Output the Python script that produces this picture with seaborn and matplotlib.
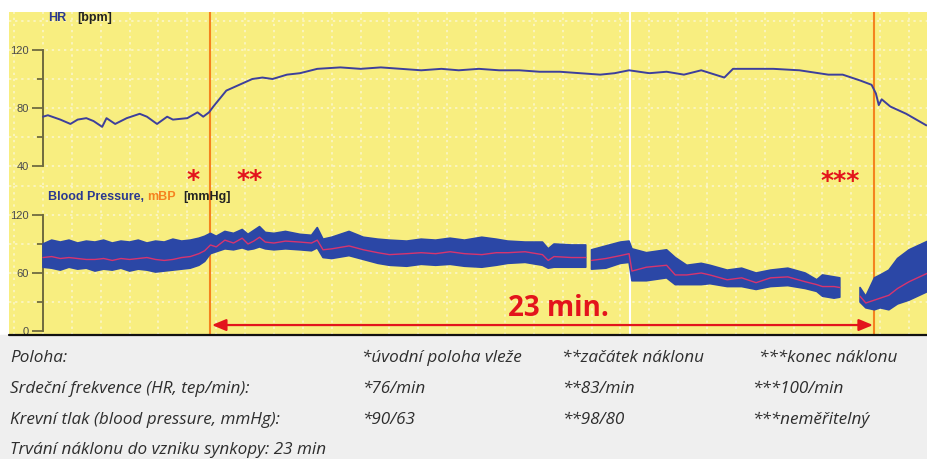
import numpy as np
import pandas as pd
import seaborn as sns
import matplotlib.pyplot as plt
from matplotlib import font_manager as fm
from matplotlib.patches import Rectangle

# === data (time in minutes from start of recording) ===
hr_t = [0, 0.17, 0.6, 0.95, 1.2, 1.5, 1.75, 2.05, 2.2, 2.5,
        2.9, 3.35, 3.6, 3.95, 4.3, 4.5, 5.0, 5.35, 5.55, 5.75,
        5.9, 6.35, 6.8, 7.25, 7.6, 7.95, 8.45, 8.9, 9.5, 10.3,
        11.0, 11.7, 12.4, 13.1, 13.8, 14.4, 15.1, 15.8, 16.5, 17.2,
        17.9, 18.6, 19.3, 19.8, 20.3, 21.0, 21.6, 22.2, 22.8, 23.6,
        23.9, 25.3, 26.2, 27.2, 27.7, 28.3, 28.7, 28.85, 28.95, 29.05,
        29.35, 29.9, 30.6]
hr = [74, 75, 72, 69, 72, 73, 71, 67, 73, 69,
      73, 76, 74, 69, 74, 72, 73, 77, 74, 77,
      81, 92, 96, 100, 101, 100, 103, 104, 107, 108,
      107, 108, 107, 106, 107, 106, 107, 106, 106, 105,
      105, 104, 103, 104, 106, 104, 105, 103, 106, 101,
      107, 107, 106, 103, 103, 99, 96, 90, 82, 86,
      81, 76, 68]

nan = np.nan
bp_t = [0, 0.3, 0.6, 0.9, 1.2, 1.5, 1.8, 2.1, 2.4, 2.7,
        3.0, 3.3, 3.6, 3.9, 4.2, 4.5, 4.8, 5.1, 5.4, 5.6,
        5.8, 6.0, 6.3, 6.6, 6.9, 7.1, 7.3, 7.5, 7.7, 8.0,
        8.4, 8.9, 9.3, 9.5, 9.7, 10.0, 10.6, 11.1, 11.6, 12.0,
        12.6, 13.1, 13.6, 14.1, 14.6, 15.2, 15.7, 16.1, 16.7, 17.3,
        17.5, 17.7, 18.3, 18.8, 18.85, 19.0, 19.5, 20.0, 20.3, 20.4,
        20.9, 21.6, 21.9, 22.3, 22.8, 23.1, 23.7, 24.2, 24.7, 25.2,
        25.8, 26.4, 26.8, 27.0, 27.4, 27.6, 27.7, 28.3, 28.5, 28.8,
        29.0, 29.3, 29.6, 30.0, 30.65]
bp_sys = [90, 94, 92, 94, 91, 93, 92, 94, 91, 93,
          92, 94, 91, 93, 92, 95, 93, 94, 96, 98,
          101, 98, 103, 101, 105, 100, 104, 108, 102, 101,
          103, 100, 99, 107, 95, 97, 103, 97, 95, 94,
          93, 95, 94, 96, 94, 97, 95, 93, 92, 92,
          85, 90, 89, 89, nan, 84, 88, 92, 93, 85,
          81, 84, 76, 68, 70, 68, 63, 65, 60, 63,
          65, 60, 53, 58, 56, 55, nan, 45, 36, 55,
          58, 63, 75, 84, 93]
bp_dia = [66, 65, 63, 66, 64, 65, 62, 64, 63, 65,
          62, 64, 63, 61, 62, 63, 64, 65, 68, 72,
          80, 82, 85, 84, 86, 84, 85, 87, 85, 84,
          85, 84, 83, 86, 76, 75, 78, 74, 70, 68,
          67, 69, 68, 69, 67, 66, 68, 70, 71, 68,
          65, 66, 66, 66, nan, 64, 65, 70, 71, 52,
          52, 55, 48, 48, 48, 49, 46, 46, 43, 46,
          47, 44, 41, 36, 34, 35, nan, 30, 24, 22,
          24, 22, 28, 32, 41]
bp_mean = [76, 77, 75, 76, 75, 74, 74, 75, 73, 75,
           74, 75, 76, 74, 73, 74, 76, 77, 80, 83,
           89, 87, 94, 91, 96, 90, 93, 97, 92, 91,
           93, 92, 91, 94, 84, 85, 88, 84, 81, 79,
           80, 81, 80, 82, 80, 79, 81, 81, 82, 79,
           73, 77, 76, 76, nan, 73, 75, 78, 80, 62,
           66, 68, 58, 58, 60, 58, 53, 55, 50, 55,
           56, 51, 48, 46, 46, 45, nan, 36, 29, 32,
           34, 37, 44, 51, 60]

tilt_start = 5.8
tilt_end = 28.8
marker_white = 20.33

legend_rows = [
    ["Poloha:", "*úvodní poloha vleže", "**začátek náklonu", "***konec náklonu"],
    ["Srdeční frekvence (HR, tep/min):", "*76/min", "**83/min", "***100/min"],
    ["Krevní tlak (blood pressure, mmHg):", "*90/63", "**98/80", "***neměřitelný"],
    ["Trvání náklonu do vzniku synkopy: 23 min"],
]

# === style ===
sns.set_style("white")
names = {f.name for f in fm.fontManager.ttflist}
note_font = next(f for f in ["Liberation Sans Narrow", "DejaVu Sans Condensed",
                             "Open Sans", "Liberation Sans", "DejaVu Sans"] if f in names)
plt.rcParams["font.family"] = ["Liberation Sans", "DejaVu Sans"]

YELLOW = "#f8ee80"
GRID = "#fbf7cf"
AXIS = "#6f6a3e"
ORANGE = "#f5821f"
RED = "#e3141c"

W, H = 927, 459
fig = plt.figure(figsize=(W / 100, H / 100), dpi=100)
fig.patches.append(Rectangle((0, 0), 1, 124 / H, transform=fig.transFigure,
                             color="#efefef", zorder=0))

px_min = 28.87
x0 = (9 - 43) / px_min
x1 = (927 - 43) / px_min

ax1 = fig.add_axes([9 / W, (H - 185) / H, 918 / W, 173 / H])
ax2 = fig.add_axes([9 / W, 124 / H, 918 / W, 150 / H])

def setup(ax, ylim, major, minor, gy):
    ax.set_facecolor(YELLOW)
    ax.set_xlim(x0, x1)
    ax.set_ylim(*ylim)
    for g in np.arange(-1, 31):
        ax.axvline(g, color=GRID, lw=1.1, ls=(0, (1.5, 2.5)), zorder=0.5)
    for g in gy:
        ax.axhline(g, color=GRID, lw=1.1, ls=(0, (1.5, 2.5)), zorder=0.5)
    for s in ["top", "right", "bottom"]:
        ax.spines[s].set_visible(False)
    ax.spines["left"].set_position(("data", 0))
    ax.spines["left"].set_bounds(major[0], major[-1])
    ax.spines["left"].set_color(AXIS)
    ax.spines["left"].set_linewidth(1.4)
    ax.set_xticks([])
    ax.set_yticks(major)
    ax.set_yticks(minor, minor=True)
    ax.tick_params(axis="y", which="major", length=8, width=1.3, color=AXIS,
                   labelsize=8, labelcolor="#4a4a4a", pad=2, left=True)
    ax.tick_params(axis="y", which="minor", length=4, width=1.3, color=AXIS, left=True)
    for xv in [tilt_start, tilt_end]:
        ax.axvline(xv, color=ORANGE, lw=1.5, zorder=3)
    ax.axvline(marker_white, color="white", lw=1.5, zorder=3)

setup(ax1, (26.9, 146.2), [40, 80, 120], [60, 100], [20, 40, 60, 80, 100, 120, 140])
setup(ax2, (-4.1, 151.0), [0, 60, 120], [30, 90], [30, 60, 90, 120, 150])

# === HR ===
sns.lineplot(x=hr_t, y=hr, ax=ax1, color="#3d3f9c", lw=1.4, zorder=4)

# === blood pressure band + mBP ===
ax2.fill_between(bp_t, bp_dia, bp_sys, color="#2b47a6", edgecolor="#2b47a6",
                 lw=1.2, zorder=4)
bp = pd.DataFrame({"t": bp_t, "mbp": bp_mean})
bp["seg"] = bp["mbp"].isna().cumsum()
bp = bp.dropna()
sns.lineplot(data=bp, x="t", y="mbp", units="seg", estimator=None, ax=ax2,
             color="#d8346e", lw=1.0, zorder=5)
for ax in (ax1, ax2):
    ax.set_xlim(x0, x1)
    ax.set_xlabel("")
    ax.set_ylabel("")

# === labels ===
lab = dict(fontsize=9, fontweight="bold", va="center", ha="left")
ax1.text(0.17, 142, "HR", color="#2b3990", **lab)
ax1.text(1.18, 142, "[bpm]", color="#222222", **lab)
ax2.text(0.17, 139.0, "Blood Pressure,", color="#2b3990", **lab)
ax2.text(3.6, 139.0, "mBP", color=ORANGE, **lab)
ax2.text(4.85, 139.0, "[mmHg]", color="#222222", **lab)

star = dict(color=RED, fontsize=18, fontweight="bold", ha="center", va="center",
            family="DejaVu Sans", zorder=6)
ax1.text(5.2, 30.5, "*", **star)
ax1.text(7.17, 30.5, "**", **star)
ax1.text(27.6, 30.0, "***", **star)

ax2.annotate("", xy=(tilt_start + 0.05, 6.2), xytext=(tilt_end - 0.05, 6.2),
             arrowprops=dict(arrowstyle="<|-|>,head_length=0.6,head_width=0.25",
                             color=RED, lw=1.6, mutation_scale=14,
                             shrinkA=0, shrinkB=0), zorder=6)
ax2.text(17.84, 23.5, "23 min.", color=RED, fontsize=20, fontweight="bold",
         family=["Open Sans", "DejaVu Sans"], ha="center", va="center", zorder=6)

# bottom black rule
fig.add_artist(plt.Line2D([9 / W, 1], [124 / H, 124 / H], color="#111111", lw=1.6))

# === bottom notes ===
baselines = [362, 393, 424, 454]
cols = [[10, 362, 562, 759], [10, 362, 562, 752], [10, 362, 562, 752], [10]]
for row, yb, xs in zip(legend_rows, baselines, cols):
    for txt, xp in zip(row, xs):
        fig.text(xp / W, (H - yb) / H, txt, fontsize=12.3, style="italic",
                 family=[note_font, "DejaVu Sans"], color="#2e2e2e", va="baseline")

fig.savefig("out.png", dpi=100, facecolor="white")
